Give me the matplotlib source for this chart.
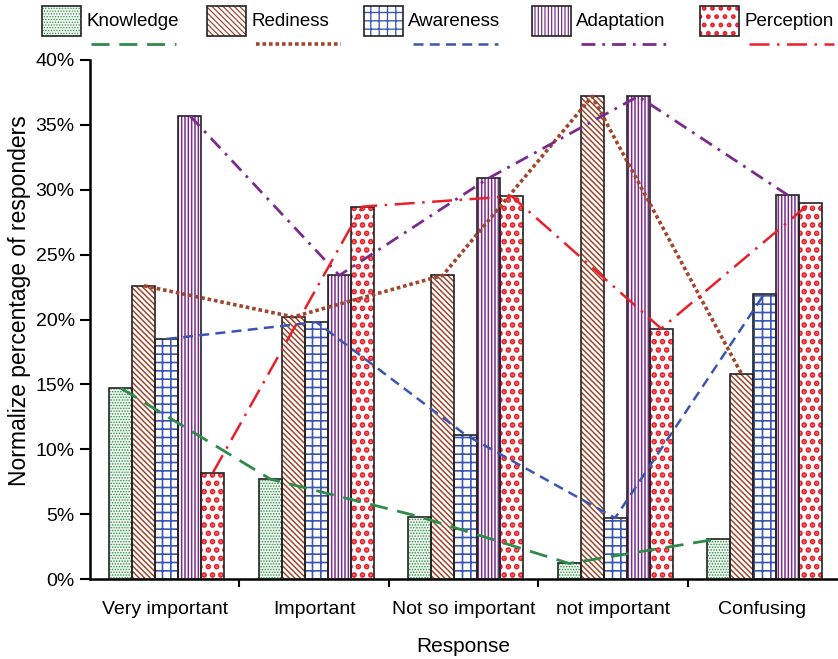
import numpy as np
import matplotlib
matplotlib.use("Agg")
import matplotlib.pyplot as plt
from matplotlib.patches import Rectangle
from matplotlib.lines import Line2D

plt.rcParams["font.family"] = ["Liberation Sans", "DejaVu Sans"]

categories = ["Very important", "Important", "Not so important", "not important", "Confusing"]
series = ["Knowledge", "Rediness", "Awareness", "Adaptation", "Perception"]

knowledge = [14.7, 7.7, 4.8, 1.2, 3.1]
rediness = [22.6, 20.2, 23.4, 37.2, 15.8]
awareness = [18.5, 19.8, 11.1, 4.7, 22.0]
adaptation = [35.7, 23.4, 30.9, 37.2, 29.6]
perception = [8.2, 28.7, 29.5, 19.3, 29.0]

values = [knowledge, rediness, awareness, adaptation, perception]

colors = ["#2e8b4a", "#a0462d", "#3a56b0", "#7a2b8c", "#e8202a"]
faces = ["#eef7ee", "white", "white", "white", "white"]
hatches = ["......", "\\\\\\\\\\\\", "++", "|||||", ".."]
hatch_lw = [0.7, 1.1, 1.2, 1.1, 2.8]
line_styles = [
    (0, (6.5, 3.5)),
    (0, (1, 0.8)),
    (0, (4, 2.5)),
    (0, (5, 2.5, 1, 2.5)),
    (0, (8, 3, 1, 3)),
]
line_widths = [2.0, 2.6, 1.8, 2.0, 1.8]

fig = plt.figure(figsize=(8.38, 6.59), dpi=100)
ax = fig.add_axes([90 / 838, 1 - 579 / 659, 747 / 838, 519 / 659])

x = np.arange(len(categories))
width = 0.154
offsets = (np.arange(len(series)) - 2) * width + 0.015

for i, name in enumerate(series):
    with plt.rc_context({"hatch.linewidth": hatch_lw[i]}):
        ax.bar(x + offsets[i], values[i], width, color=faces[i], edgecolor=colors[i],
               hatch=hatches[i], linewidth=0, zorder=2)
    ax.bar(x + offsets[i], values[i], width, fill=False, edgecolor="#222222",
           linewidth=1.2, zorder=3)

for i, name in enumerate(series):
    ax.plot(x + offsets[i], values[i], color=colors[i], linestyle=line_styles[i],
            linewidth=line_widths[i], zorder=4)

ax.set_xlim(-0.5, 4.5)
ax.set_ylim(0, 40)
ax.set_yticks(np.arange(0, 41, 5))
ax.set_yticklabels([f"{v}%" for v in range(0, 41, 5)], fontsize=14)
ax.set_xticks(x)
ax.set_xticklabels(categories, fontsize=14)
ax.set_xticks(np.arange(0.5, 4.0, 1.0), minor=True)
ax.tick_params(axis="x", which="major", length=0, pad=16)
ax.tick_params(axis="x", which="minor", length=6, width=1.5, direction="out")
ax.tick_params(axis="y", length=7, width=1.5, direction="out", pad=4)
for s in ["top", "right"]:
    ax.spines[s].set_visible(False)
for s in ["left", "bottom"]:
    ax.spines[s].set_linewidth(1.8)
ax.set_ylabel("Normalize percentage of responders", fontsize=16.5)
ax.yaxis.set_label_coords(-0.079, 0.537)
ax.set_xlabel("Response", fontsize=15)
ax.xaxis.set_label_coords(0.5, -0.112)

# custom legend: hatch box + label, line sample under the label
lax = fig.add_axes([0, 1 - 52 / 659, 1, 52 / 659])
lax.set_xlim(0, 838)
lax.set_ylim(52, 0)
lax.axis("off")
leg_x = [42, 207, 364, 532, 700]
for i, name in enumerate(series):
    with plt.rc_context({"hatch.linewidth": hatch_lw[i] * 0.8}):
        lax.add_patch(Rectangle((leg_x[i], 6), 39, 30, facecolor=faces[i],
                                edgecolor=colors[i], hatch=hatches[i], linewidth=0))
    lax.add_patch(Rectangle((leg_x[i], 6), 39, 30, fill=False,
                            edgecolor="#222222", linewidth=1.2))
    lax.text(leg_x[i] + 44, 21, name, fontsize=13.5, va="center", ha="left")
    lax.add_line(Line2D([leg_x[i] + 49, leg_x[i] + 134], [44, 44], color=colors[i],
                        linestyle=line_styles[i], linewidth=line_widths[i]))

fig.savefig("out.png", dpi=100)
